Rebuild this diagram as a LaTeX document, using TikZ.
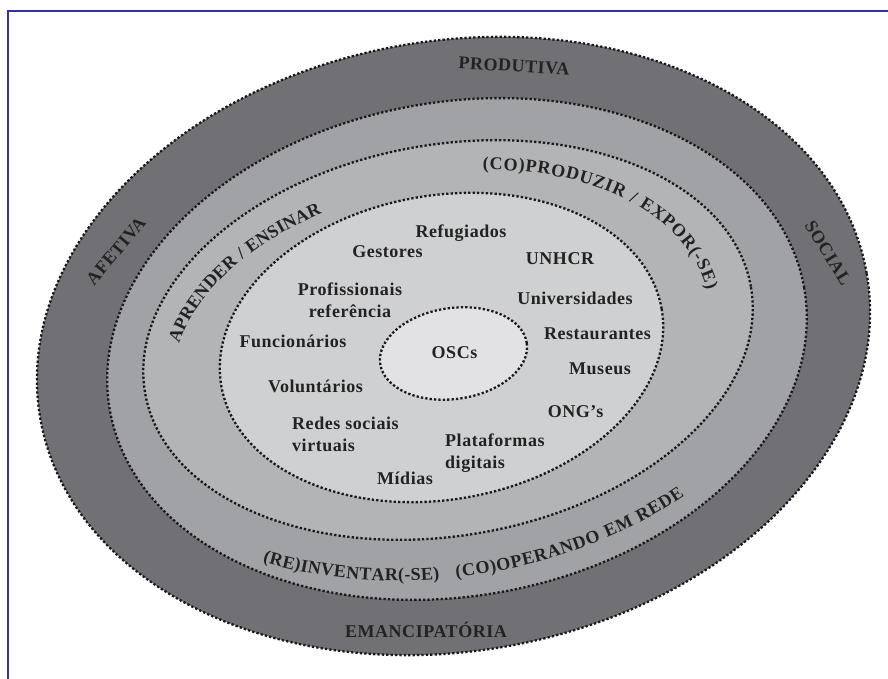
\documentclass[tikz,border=0pt]{standalone}
\usepackage{fontspec}
\setmainfont{Liberation Serif}
\newfontfamily\lblfont[LetterSpace=3]{Liberation Serif}
\usepackage{xcolor}
\usetikzlibrary{shapes.geometric,decorations.text}
\definecolor{ink}{HTML}{222222}
\definecolor{frameblue}{RGB}{50,50,160}
\definecolor{ringA}{HTML}{717175}
\definecolor{ringB}{HTML}{A1A2A5}
\definecolor{ringC}{HTML}{B3B4B6}
\definecolor{ringD}{HTML}{CFD0D2}
\definecolor{ringE}{HTML}{E2E2E4}

\begin{document}
\begin{tikzpicture}[x=1pt,y=1pt,
    ring/.style={ellipse, draw=black!90, line width=2.3pt, dash pattern=on 2.3pt off 2.1pt, inner sep=0pt, rotate=#1},
    ring/.default=10,
    who/.style={font=\lblfont\bfseries\fontsize{18}{22}\selectfont, text=ink, inner sep=0pt},
    along/.style={decorate, decoration={text along path, text align={fit to path}, text color=ink, text={|\lblfont\bfseries\fontsize{18}{22}\selectfont|#1}}}]
    \useasboundingbox (0,0) rectangle (888,679);
    \draw[frameblue, line width=1.2pt] (8,0) -- (8,668) -- (888,668);
    \node[ring, fill=ringA, minimum width=839, minimum height=610] (dimensoes) at (453.5,333) {};
    \node[ring, fill=ringB, minimum width=705, minimum height=494] (rede) at (457,330) {};
    \node[ring, fill=ringC, minimum width=615, minimum height=391] (aprender) at (448,339) {};
    \node[ring, fill=ringD, minimum width=447, minimum height=304] (atores) at (441.5,331.5) {};
    \node[ring=8, fill=ringE, minimum width=148, minimum height=91] (nucleo) at (453.5,325.5) {};
    \node[who, rotate=-3] (produtiva) at (514,613) {PRODUTIVA};
    \node[who, rotate=50] (afetiva) at (116,428) {AFETIVA};
    \node[who, rotate=-58] (social) at (828,426) {SOCIAL};
    \node[who] (emancipatoria) at (426,49) {EMANCIPATÓRIA};
    \begin{scope}[shift={(450,334)}, rotate=10]
        \path[along={APRENDER / ENSINAR}] (163:278.5 and 163.9) arc[start angle=163, end angle=111.75, x radius=278.5, y radius=163.9];
        \path[along={(CO)PRODUZIR / EXPOR(-SE)}] (76.2:263.1 and 171.7) arc[start angle=76.2, end angle=3.2, x radius=263.1, y radius=171.7];
        \path[along={(RE)INVENTAR(-SE)}] (231.5:357 and 231) arc[start angle=231.5, end angle=261.8, x radius=357, y radius=231];
        \path[along={(CO)OPERANDO EM REDE}] (264.5:357 and 231) arc[start angle=264.5, end angle=305, x radius=357, y radius=231];
    \end{scope}
    \node[who, anchor=base] (oscs) at (454.5,320) {OSCs};
    \node[who, anchor=base] (refugiados) at (461,441) {Refugiados};
    \node[who, anchor=base] (gestores) at (387.5,421) {Gestores};
    \node[who, anchor=base] (unhcr) at (560,414) {UNHCR};
    \node[who, align=center] (profissionais) at (350,379.2) {Profissionais\\referência};
    \node[who, anchor=base] (universidades) at (575,374) {Universidades};
    \node[who, anchor=base] (restaurantes) at (597.5,339) {Restaurantes};
    \node[who, anchor=base] (funcionarios) at (293,331) {Funcionários};
    \node[who, anchor=base] (museus) at (600,304) {Museus};
    \node[who, anchor=base] (voluntarios) at (315.5,286) {Voluntários};
    \node[who, anchor=base] (ongs) at (575.5,261) {ONG’s};
    \node[who, align=left, anchor=west] (redes) at (292,244.2) {Redes sociais\\virtuais};
    \node[who, align=left, anchor=west] (plataformas) at (445,225.7) {Plataformas\\digitais};
    \node[who, anchor=base] (midias) at (405,194) {Mídias};
\end{tikzpicture}
\end{document}
